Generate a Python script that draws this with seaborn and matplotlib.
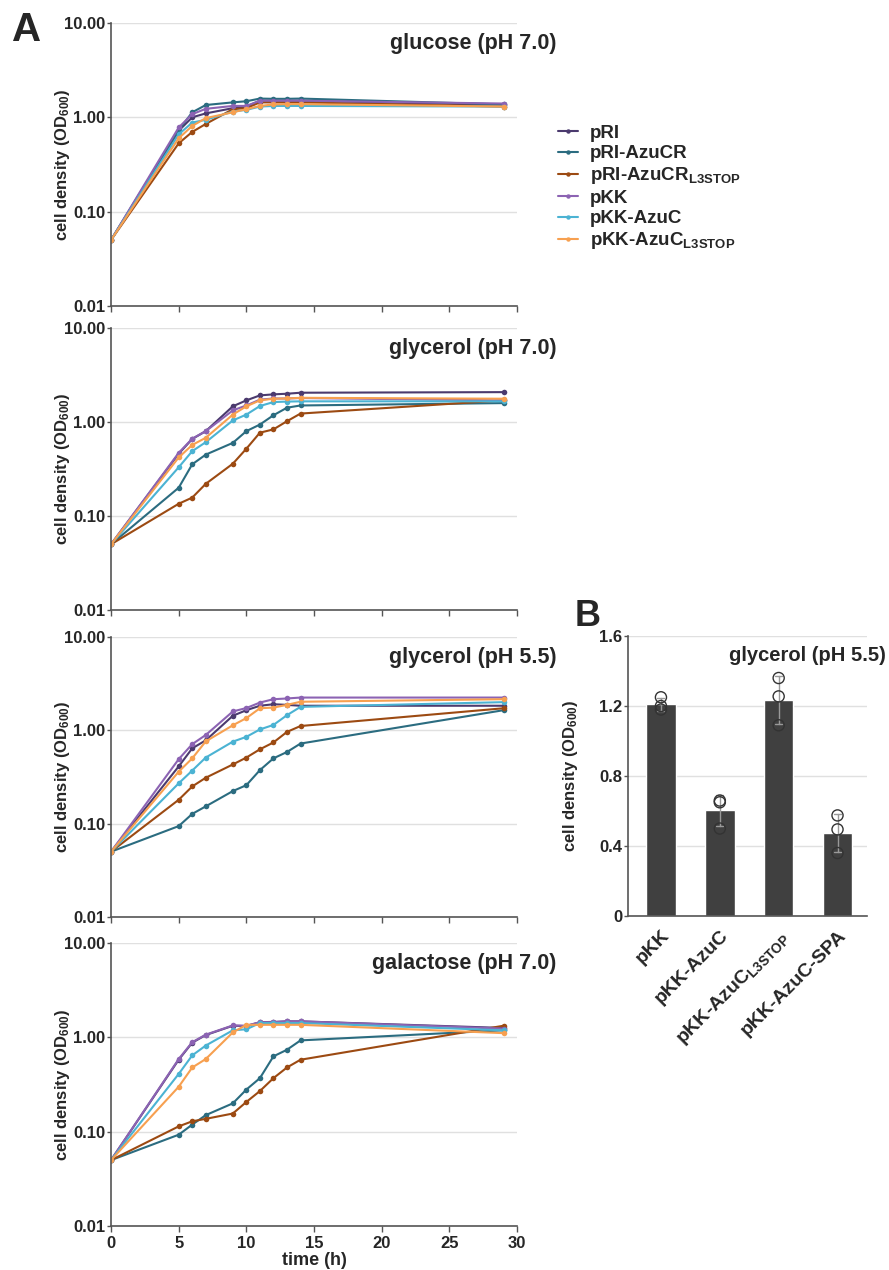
import numpy as np
import pandas as pd
import matplotlib
matplotlib.use("Agg")
import matplotlib.pyplot as plt
import seaborn as sns

# sampling times (h)
times = [0, 5, 6, 7, 9, 10, 11, 12, 13, 14, 29]

strains = ["pRI", "pRI-AzuCR", "pRI-AzuCR_L3STOP", "pKK", "pKK-AzuC", "pKK-AzuC_L3STOP"]
strain_labels = ["pRI", "pRI-AzuCR", r"pRI-AzuCR$_{\mathbf{L3STOP}}$",
                 "pKK", "pKK-AzuC", r"pKK-AzuC$_{\mathbf{L3STOP}}$"]
colors = ["#4b3a6e", "#2b6c80", "#9c4a12", "#8c63b3", "#4bb3d3", "#f7a050"]

# OD600 values, one list per strain, per condition
glucose_7 = {
    "pRI":              [0.05, 0.72, 1.00, 1.10, 1.25, 1.30, 1.50, 1.50, 1.50, 1.50, 1.35],
    "pRI-AzuCR":        [0.05, 0.73, 1.13, 1.35, 1.44, 1.48, 1.58, 1.57, 1.57, 1.58, 1.37],
    "pRI-AzuCR_L3STOP": [0.05, 0.53, 0.70, 0.85, 1.22, 1.25, 1.44, 1.44, 1.44, 1.44, 1.30],
    "pKK":              [0.05, 0.78, 1.08, 1.23, 1.32, 1.32, 1.50, 1.50, 1.50, 1.50, 1.40],
    "pKK-AzuC":         [0.05, 0.66, 0.88, 0.94, 1.15, 1.20, 1.30, 1.32, 1.32, 1.32, 1.30],
    "pKK-AzuC_L3STOP":  [0.05, 0.60, 0.81, 0.98, 1.13, 1.22, 1.32, 1.37, 1.38, 1.38, 1.30],
}
glycerol_7 = {
    "pRI":              [0.05, 0.46, 0.66, 0.80, 1.47, 1.70, 1.92, 1.97, 2.00, 2.05, 2.08],
    "pRI-AzuCR":        [0.05, 0.20, 0.355, 0.45, 0.60, 0.80, 0.94, 1.18, 1.42, 1.50, 1.59],
    "pRI-AzuCR_L3STOP": [0.05, 0.135, 0.157, 0.22, 0.36, 0.52, 0.77, 0.835, 1.02, 1.23, 1.70],
    "pKK":              [0.05, 0.47, 0.665, 0.80, 1.33, 1.50, 1.73, 1.78, 1.78, 1.80, 1.70],
    "pKK-AzuC":         [0.05, 0.33, 0.49, 0.61, 1.04, 1.20, 1.48, 1.63, 1.65, 1.66, 1.66],
    "pKK-AzuC_L3STOP":  [0.05, 0.42, 0.57, 0.68, 1.20, 1.47, 1.70, 1.77, 1.78, 1.81, 1.77],
}
glycerol_55 = {
    "pRI":              [0.05, 0.41, 0.64, 0.78, 1.43, 1.64, 1.83, 1.90, 1.87, 1.83, 1.83],
    "pRI-AzuCR":        [0.05, 0.094, 0.127, 0.153, 0.223, 0.258, 0.374, 0.50, 0.585, 0.72, 1.64],
    "pRI-AzuCR_L3STOP": [0.05, 0.18, 0.25, 0.31, 0.43, 0.51, 0.625, 0.74, 0.96, 1.11, 1.72],
    "pKK":              [0.05, 0.49, 0.71, 0.89, 1.59, 1.73, 1.98, 2.15, 2.19, 2.24, 2.24],
    "pKK-AzuC":         [0.05, 0.27, 0.37, 0.51, 0.755, 0.85, 1.02, 1.14, 1.45, 1.78, 2.00],
    "pKK-AzuC_L3STOP":  [0.05, 0.36, 0.50, 0.76, 1.13, 1.35, 1.72, 1.75, 1.87, 2.02, 2.15],
}
galactose_7 = {
    "pRI":              [0.05, 0.58, 0.88, 1.06, 1.33, 1.32, 1.45, 1.46, 1.48, 1.48, 1.26],
    "pRI-AzuCR":        [0.05, 0.093, 0.119, 0.15, 0.20, 0.28, 0.37, 0.63, 0.74, 0.93, 1.19],
    "pRI-AzuCR_L3STOP": [0.05, 0.114, 0.129, 0.137, 0.156, 0.207, 0.27, 0.37, 0.48, 0.58, 1.33],
    "pKK":              [0.05, 0.59, 0.89, 1.07, 1.34, 1.33, 1.45, 1.45, 1.48, 1.48, 1.24],
    "pKK-AzuC":         [0.05, 0.41, 0.645, 0.82, 1.19, 1.22, 1.42, 1.42, 1.42, 1.42, 1.19],
    "pKK-AzuC_L3STOP":  [0.05, 0.30, 0.48, 0.59, 1.13, 1.36, 1.36, 1.36, 1.36, 1.36, 1.11],
}
conditions = [("glucose (pH 7.0)", glucose_7),
              ("glycerol (pH 7.0)", glycerol_7),
              ("glycerol (pH 5.5)", glycerol_55),
              ("galactose (pH 7.0)", galactose_7)]

# panel B: OD600 after growth in glycerol pH 5.5, three replicates each
b_strains = ["pKK", "pKK-AzuC", "pKK-AzuC_L3STOP", "pKK-AzuC-SPA"]
b_labels = ["pKK", "pKK-AzuC", r"pKK-AzuC$_{\mathbf{L3STOP}}$", "pKK-AzuC-SPA"]
b_reps = [[1.25, 1.20, 1.18],
          [0.66, 0.65, 0.50],
          [1.36, 1.255, 1.09],
          [0.575, 0.495, 0.36]]

sns.set_theme(style="white")
plt.rcParams["font.family"] = ["Liberation Sans", "DejaVu Sans"]
plt.rcParams["font.weight"] = "bold"
plt.rcParams["mathtext.fontset"] = "custom"
plt.rcParams["mathtext.rm"] = "Liberation Sans"
plt.rcParams["mathtext.bf"] = "Liberation Sans:bold"
plt.rcParams["mathtext.default"] = "bf"

fig = plt.figure(figsize=(8.89, 12.7), dpi=100)
panel_rects = [[0.1249, 0.7591, 0.4567, 0.2228],
               [0.1249, 0.5197, 0.4567, 0.2220],
               [0.1249, 0.2780, 0.4567, 0.2205],
               [0.1249, 0.0346, 0.4567, 0.2228]]
palette = dict(zip(strains, colors))
ylabel = r"cell density (OD$_{\mathbf{600}}$)"
spine_col = "#555555"
grid_col = "#e0e0e0"

for i, ((title, cond), rect) in enumerate(zip(conditions, panel_rects)):
    ax = fig.add_axes(rect)
    rows = []
    for s in strains:
        for t, v in zip(times, cond[s]):
            rows.append({"time": t, "od": v, "strain": s})
    df = pd.DataFrame(rows)
    sns.lineplot(data=df, x="time", y="od", hue="strain", hue_order=strains,
                 palette=palette, marker="o", markersize=4, markeredgewidth=0,
                 linewidth=1.5, ax=ax, legend=(i == 0))
    ax.set_yscale("log")
    ax.set_ylim(0.01, 10)
    ax.set_xlim(0, 30)
    ax.set_yticks([0.01, 0.1, 1, 10])
    ax.set_yticklabels(["0.01", "0.10", "1.00", "10.00"])
    ax.minorticks_off()
    ax.set_xticks([0, 5, 10, 15, 20, 25, 30])
    ax.yaxis.grid(True, color=grid_col, linewidth=1)
    ax.xaxis.grid(False)
    for side in ["top", "right"]:
        ax.spines[side].set_visible(False)
    for side in ["left", "bottom"]:
        ax.spines[side].set_color(spine_col)
        ax.spines[side].set_linewidth(1.2)
    ax.tick_params(axis="x", bottom=True, length=4, width=1, color=spine_col,
                   labelsize=12, pad=3)
    ax.tick_params(axis="y", left=True, length=3, width=1, color=spine_col,
                   labelsize=12, pad=1)
    ax.set_ylabel(ylabel, fontsize=12, fontweight="bold")
    ax.yaxis.set_label_coords(-0.095, 0.5)
    if i < 3:
        ax.set_xticklabels([])
        ax.set_xlabel("")
    else:
        ax.set_xlabel("time (h)", fontsize=13, fontweight="bold", labelpad=1)
    ax.text(1.097, 0.965, title, transform=ax.transAxes, ha="right", va="top",
            fontsize=15.5, fontweight="bold")
    if i == 0:
        handles, _ = ax.get_legend_handles_labels()
        ax.legend(handles, strain_labels, loc="upper left",
                  bbox_to_anchor=(1.10, 0.64), frameon=False, fontsize=13.5,
                  handlelength=1.1, handletextpad=0.6, labelspacing=0.17,
                  markerscale=0.8, borderaxespad=0, borderpad=0)

fig.text(0.013, 0.991, "A", fontsize=29, fontweight="bold", va="top")

# panel B
axb = fig.add_axes([0.7064, 0.2787, 0.2688, 0.2205])
brows = []
for s, reps in zip(b_strains, b_reps):
    for r in reps:
        brows.append({"strain": s, "od": r})
bdf = pd.DataFrame(brows)
sns.barplot(data=bdf, x="strain", y="od", order=b_strains, color="#404040",
            saturation=1, width=0.5, errorbar="sd", capsize=0.12,
            err_kws={"color": "#999999", "linewidth": 1}, ax=axb)
n_before = len(axb.collections)
sns.stripplot(data=bdf, x="strain", y="od", order=b_strains, jitter=False,
              size=8, color="#333333", linewidth=1.0, edgecolor="#333333", ax=axb)
for coll in axb.collections[n_before:]:
    coll.set_facecolor("none")
    coll.set_edgecolor("#333333")
axb.set_xlim(-0.56, 3.5)
axb.set_ylim(0, 1.6)
axb.set_yticks([0, 0.4, 0.8, 1.2, 1.6])
axb.set_yticklabels(["0", "0.4", "0.8", "1.2", "1.6"])
axb.yaxis.grid(True, color=grid_col, linewidth=1)
axb.set_axisbelow(True)
for side in ["top", "right"]:
    axb.spines[side].set_visible(False)
for side in ["left", "bottom"]:
    axb.spines[side].set_color(spine_col)
    axb.spines[side].set_linewidth(1.2)
axb.tick_params(axis="y", left=True, length=3, width=1, color=spine_col,
                labelsize=12, pad=1)
axb.tick_params(axis="x", bottom=False, labelsize=14, pad=2)
axb.set_xticks(range(len(b_labels)))
axb.set_xticklabels(b_labels, rotation=45, ha="right", rotation_mode="anchor",
                    fontweight="bold")
axb.set_xlabel("")
axb.set_ylabel(ylabel, fontsize=12, fontweight="bold")
axb.yaxis.set_label_coords(-0.2, 0.5)
axb.text(1.08, 0.965, "glycerol (pH 5.5)", transform=axb.transAxes, ha="right",
         va="top", fontsize=14.5, fontweight="bold")
fig.text(0.646, 0.5285, "B", fontsize=26, fontweight="bold", va="top")

fig.savefig("out.png", dpi=100)
